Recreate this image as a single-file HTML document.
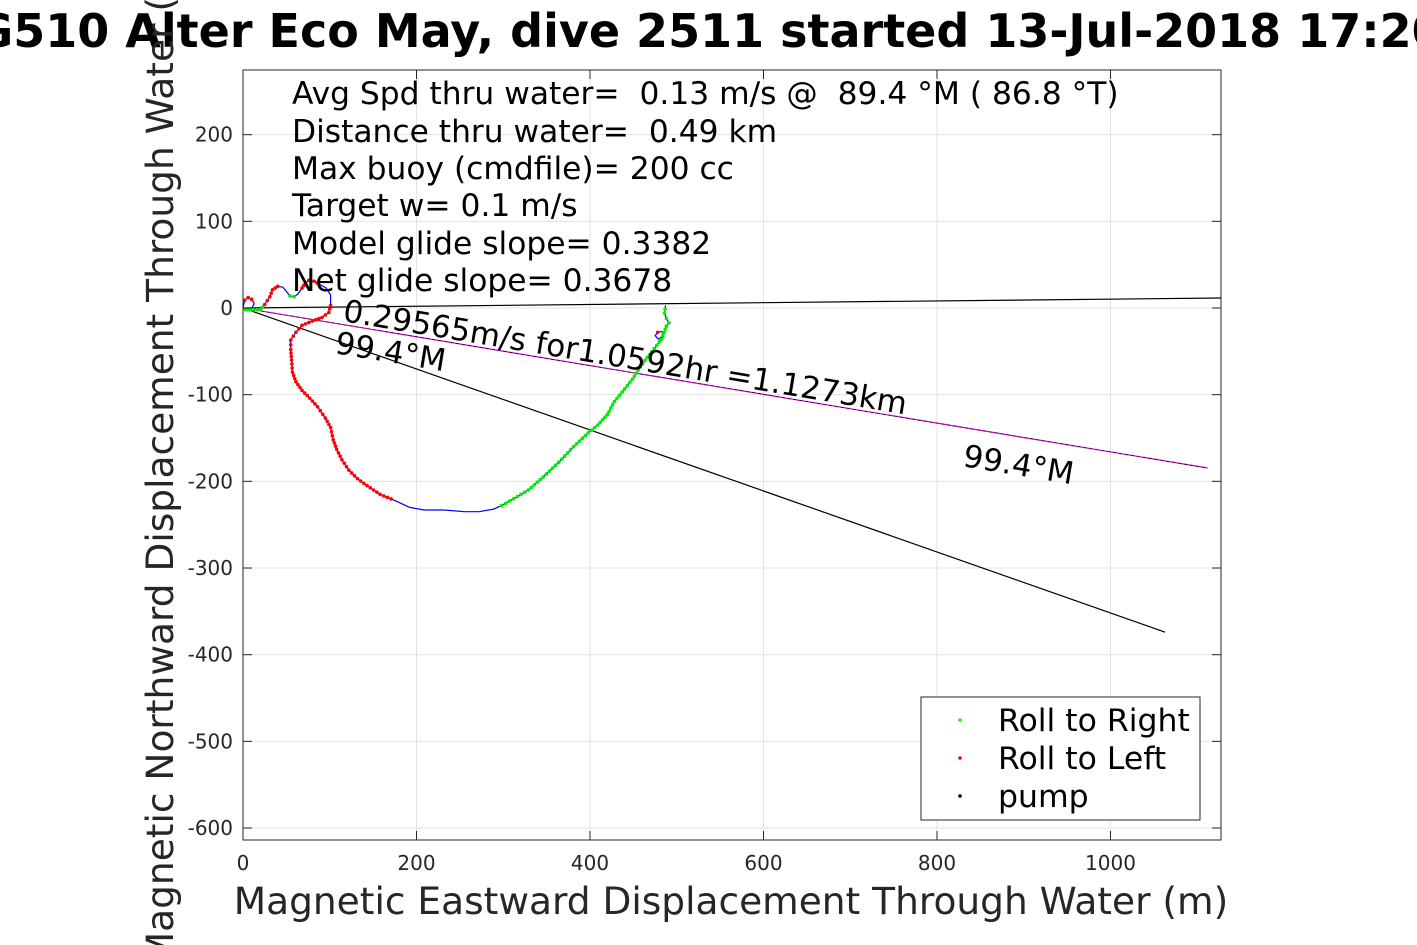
<!DOCTYPE html>
<html><head><meta charset="utf-8">
<style>
html,body{margin:0;padding:0;background:#fff;}
svg{display:block;font-family:"DejaVu Sans","Liberation Sans",sans-serif;}
text{white-space:pre;}
</style></head>
<body>
<svg id="chart" width="1417" height="945" viewBox="0 0 1417 945" xmlns="http://www.w3.org/2000/svg">
<rect x="0" y="0" width="1417" height="945" fill="#fff"/>
<g id="grid"></g>
<g id="series"></g>
<rect x="243" y="70" width="978" height="770" fill="none" stroke="#262626" stroke-width="1"/>
<g id="ticks"></g>
<text x="693" y="47" text-anchor="middle" font-size="46" font-weight="bold" fill="#000">SG510 Alter Eco May, dive 2511 started 13-Jul-2018 17:20</text>
<text x="731" y="914" text-anchor="middle" font-size="37.5" fill="#262626">Magnetic Eastward Displacement Through Water (m)</text>
<text transform="translate(173,455) rotate(-90)" text-anchor="middle" font-size="37.5" fill="#262626">Magnetic Northward Displacement Through Water (m)</text>
<g font-size="31.3" fill="#000">
<text x="292" y="104" xml:space="preserve">Avg Spd thru water=  0.13 m/s @  89.4 °M ( 86.8 °T)</text>
<text x="292" y="142" xml:space="preserve">Distance thru water=  0.49 km</text>
<text x="292" y="179">Max buoy (cmdfile)= 200 cc</text>
<text x="292" y="216">Target w= 0.1 m/s</text>
<text x="292" y="254">Model glide slope= 0.3382</text>
<text x="292" y="291">Net glide slope= 0.3678</text>
</g>
<g id="labels"></g>
<g>
<rect x="921" y="697" width="279" height="123" fill="#fff" stroke="#262626" stroke-width="1"/>
<g><circle cx="960" cy="720" r="1.8" fill="#00ff00"/><text x="998" y="731" font-size="31.5">Roll to Right</text></g>
<g><circle cx="960" cy="758" r="1.8" fill="#ff0000"/><text x="998" y="769" font-size="31.5">Roll to Left</text></g>
<g><circle cx="960" cy="796" r="1.8" fill="#000"/><text x="998" y="807" font-size="31.5">pump</text></g>
</g>
</svg>
<script>
const xTicks = [0, 200, 400, 600, 800, 1000];
const yTicks = [200, 100, 0, -100, -200, -300, -400, -500, -600];
// track in metres (east, north)
const trackX = [0,2,6,10,13,9,3,20,25,31,34,40,46,51,54,59,63,68,72,76,82,89,96,101,101,99,91,80,68,61,55,55,56,57,61,68,77,86,95,101,104,108,114,122,132,143,158,175,192,209,232,255,272,289,298,312,329,346,364,381,398,409,420,428,437,449,458,466,474,480,485,483,478,475,479,484,488,491,488,486,487];
const trackY = [0,9,12,10,5,-2,-2,-2,4,13,21,25,24,18,14,13,16,23,29,32,31,27,23,15,3,-5,-11,-15,-20,-28,-37,-48,-60,-74,-85,-95,-104,-114,-127,-138,-152,-163,-175,-187,-197,-205,-215,-222,-230,-233,-233,-235,-235,-232,-228,-220,-210,-195,-178,-160,-144,-135,-123,-108,-97,-82,-68,-57,-47,-39,-33,-27,-28,-32,-36,-32,-21,-17,-12,-6,3];
const rollState = ["-","L","L","L","-","R","R","R","L","L","L","L","-","-","R","R","-","L","L","L","L","-","-","-","L","L","L","L","L","L","L","L","L","L","L","L","L","L","L","L","L","L","L","L","L","L","L","-","-","-","-","-","-","-","R","R","R","R","R","R","R","R","R","R","R","R","R","R","R","R","-","-","L","-","-","R","R","R","R","R","R"];
const eastLine = [1127, 11.5];
const headingLine = [1063, -374];
const netLine = [1112, -184.6];
const labelText = ["0.29565m/s for1.0592hr =1.1273km", "99.4°M", "99.4°M"];

const NS = "http://www.w3.org/2000/svg";
const X0 = 243, X1 = 1221, Y0 = 70, Y1 = 840;
const xMin = 0, xMax = 1127.4, yMin = -613.8, yMax = 274.6;
function sx(v){ return X0 + (v - xMin) / (xMax - xMin) * (X1 - X0); }
function sy(v){ return Y1 - (v - yMin) / (yMax - yMin) * (Y1 - Y0); }
function mk(tag, attrs, parent){
  const e = document.createElementNS(NS, tag);
  for (const k in attrs) e.setAttribute(k, attrs[k]);
  parent.appendChild(e); return e;
}
const grid = document.getElementById('grid');
const ticks = document.getElementById('ticks');
const series = document.getElementById('series');
const labels = document.getElementById('labels');

xTicks.forEach(t => {
  const x = sx(t);
  const g = mk('line', {x1:x, x2:x, y1:Y0, y2:Y1, stroke:'#e3e3e3', 'stroke-width':1}, grid);
  
  
  mk('line', {x1:x, x2:x, y1:Y1, y2:Y1-9, stroke:'#262626'}, ticks);
  mk('line', {x1:x, x2:x, y1:Y0, y2:Y0+9, stroke:'#262626'}, ticks);
  const tl = mk('text', {x:x, y:870, 'text-anchor':'middle', 'font-size':20, fill:'#262626'}, ticks);
  tl.textContent = t;
  
  
});
yTicks.forEach(t => {
  const y = sy(t);
  const g = mk('line', {x1:X0, x2:X1, y1:y, y2:y, stroke:'#e3e3e3', 'stroke-width':1}, grid);
  
  
  mk('line', {x1:X0, x2:X0+9, y1:y, y2:y, stroke:'#262626'}, ticks);
  mk('line', {x1:X1, x2:X1-9, y1:y, y2:y, stroke:'#262626'}, ticks);
  const tl = mk('text', {x:233, y:y+7, 'text-anchor':'end', 'font-size':20, fill:'#262626'}, ticks);
  tl.textContent = t;
  
  
});

function refLine(end, color, name){
  const l = mk('line', {x1:sx(0), y1:sy(0), x2:sx(end[0]), y2:sy(end[1]), stroke:color, 'stroke-width':1.2}, series);
  
  
}
refLine(eastLine, '#000', 'east-reference-line');
refLine(headingLine, '#000', 'heading-line');
refLine(netLine, '#cc00cc', 'net-displacement-line');
mk('line', {x1:sx(0), y1:sy(0), x2:sx(netLine[0]), y2:sy(netLine[1]), stroke:'#000', 'stroke-width':0.6, 'stroke-dasharray':'3 3'}, series);

let d = '';
trackX.forEach((v,i) => { d += (i ? 'L' : 'M') + sx(v).toFixed(1) + ',' + sy(trackY[i]).toFixed(1); });
const tp = mk('path', {d:d, fill:'none', stroke:'#0000ff', 'stroke-width':1.2, 'stroke-linejoin':'round'}, series);



for (let i = 0; i < trackX.length - 1; i++) {
  const s = rollState[i];
  if (s === '-') continue;
  const col = s === 'R' ? '#00ee00' : '#ff0000';
  const x1 = sx(trackX[i]), y1 = sy(trackY[i]), x2 = sx(trackX[i+1]), y2 = sy(trackY[i+1]);
  const n = Math.max(1, Math.round(Math.hypot(x2-x1, y2-y1) / 4));
  for (let k = 0; k < n; k++) {
    const c = mk('circle', {cx:x1+(x2-x1)*k/n, cy:y1+(y2-y1)*k/n, r:1.8, fill:col}, series);
    
    
  }
}

const ang = Math.atan2(sy(netLine[1]) - sy(0), sx(netLine[0]) - sx(0)) * 180 / Math.PI;
function lbl(txt, x, y, a, name){
  const t = mk('text', {transform:'translate('+x+','+y+') rotate('+a+')', 'font-size':31, fill:'#000'}, labels);
  t.textContent = txt;
  
  
}
lbl(labelText[0], 342, 321, ang, 'net-speed-label');
lbl(labelText[1], 334, 353, ang, 'heading-label');
lbl(labelText[2], 962, 466, ang, 'net-heading-label');
</script>
</body></html>
